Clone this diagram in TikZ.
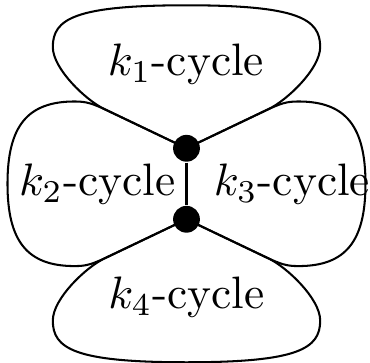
\documentclass[tikz,border=0pt]{standalone}
\begin{document}
\begin{tikzpicture}[x=0.22pt,y=0.22pt,
  dot/.style={circle,fill=black,inner sep=0pt,minimum size=5.9pt},
  lbl/.style={anchor=base,inner sep=0pt},
  cyc/.style={line width=0.45pt}]
\useasboundingbox (-186.5,-179.2) rectangle (183.5,183.8);
\coordinate (u) at (0,35.5);
\coordinate (d) at (0,-35.5);
% top loop
\draw[cyc] (u) -- (-82.1,74.7) .. controls (-100.2,83.3) and (-133.7,114.8) .. (-133.7,136.8)
  .. controls (-133.7,164.8) and (-112,178.5) .. (0,178.5)
  .. controls (112,178.5) and (133.7,164.8) .. (133.7,136.8)
  .. controls (133.7,114.8) and (100.2,83.3) .. (82.1,74.7) -- (u);
% bottom loop
\draw[cyc] (d) -- (-82.1,-74.7) .. controls (-100.2,-83.3) and (-133.7,-114.8) .. (-133.7,-136.8)
  .. controls (-133.7,-164.8) and (-112,-178.5) .. (0,-178.5)
  .. controls (112,-178.5) and (133.7,-164.8) .. (133.7,-136.8)
  .. controls (133.7,-114.8) and (100.2,-83.3) .. (82.1,-74.7) -- (d);
% left loop
\draw[cyc] (u) -- (-76.7,72.1) .. controls (-94.7,80.7) and (-100,82.3) .. (-112,82.3)
  .. controls (-159.2,82.3) and (-179,57.6) .. (-179,0)
  .. controls (-179,-57.6) and (-159.2,-82.3) .. (-112,-82.3)
  .. controls (-100,-82.3) and (-94.7,-80.7) .. (-76.7,-72.1) -- (d);
% right loop
\draw[cyc] (u) -- (76.7,72.1) .. controls (94.7,80.7) and (100,82.3) .. (112,82.3)
  .. controls (159.2,82.3) and (179,57.6) .. (179,0)
  .. controls (179,-57.6) and (159.2,-82.3) .. (112,-82.3)
  .. controls (100,-82.3) and (94.7,-80.7) .. (76.7,-72.1) -- (d);
\node[dot] (U) at (u) {};
\node[dot] (D) at (d) {};
\draw[cyc] (U) -- (D);
\node[lbl] (t1) at (-0.5,107.8) {$k_1$-cycle};
\node[lbl] (t2) at (-89.3,-12.2) {$k_2$-cycle};
\node[lbl] (t3) at (105.5,-12.2) {$k_3$-cycle};
\node[lbl] (t4) at (0,-124.5) {$k_4$-cycle};
\end{tikzpicture}
\end{document}
